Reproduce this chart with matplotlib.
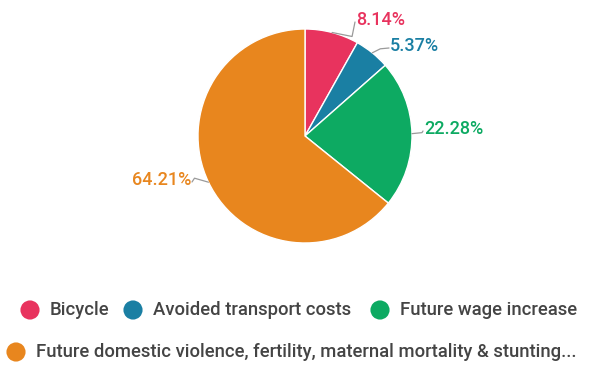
import numpy as np
import matplotlib.pyplot as plt

plt.rcParams['font.family'] = ['Roboto', 'DejaVu Sans']

labels = ['Bicycle', 'Avoided transport costs', 'Future wage increase',
          'Future domestic violence, fertility, maternal mortality & stunting...']
values = [8.14, 5.37, 22.28, 64.21]
colors = ['#E8335E', '#1A7FA3', '#0DAA62', '#E8861E']

W, H = 591, 372
fig = plt.figure(figsize=(W / 100, H / 100), dpi=100)
ax = fig.add_axes([0, 0, 1, 1])

cx, cy, r = 305, H - 136, 107
wedges, _ = ax.pie(values, colors=colors, startangle=90, counterclock=False,
                   center=(cx, cy), radius=r, frame=True,
                   wedgeprops=dict(edgecolor='white', linewidth=1))
ax.set_xlim(0, W)
ax.set_ylim(0, H)
ax.set_aspect('equal')
ax.axis('off')

# leader line elbow offsets and text positions
lab_pos = [
    ((20, -4), (355, H - 20), 'left'),
    ((8, 4), (389, H - 46), 'left'),
    ((10, 1), (423, H - 129), 'left'),
    ((-14, 4), (192, H - 180), 'right'),
]
for w, v, c, (off, tpos, ha) in zip(wedges, values, colors, lab_pos):
    ang = np.deg2rad((w.theta1 + w.theta2) / 2)
    x0 = cx + r * np.cos(ang)
    y0 = cy + r * np.sin(ang)
    x1, y1 = x0 + off[0], y0 + off[1]
    tx, ty = tpos
    ax.plot([x0, x1, tx], [y0, y1, ty - 2],
            color='#9a9a9a', lw=0.9, solid_capstyle='round')
    ax.text(tx + (1 if ha == 'left' else -1), ty, f'{v:.2f}%', color=c,
            fontsize=13, fontweight='medium', ha=ha, va='center')

# legend
rows = [
    [(30, 0), (133, 1), (380, 2)],
    [(16, 3)],
]
row_y = [H - 310, H - 352]
for items, y in zip(rows, row_y):
    for x, i in items:
        ax.scatter([x], [y], s=190, color=colors[i], edgecolors='none')
        ax.text(x + 20, y, labels[i], fontsize=13.3, fontweight='medium',
                color='#444444', ha='left', va='center')

fig.savefig('out.png', dpi=100)
